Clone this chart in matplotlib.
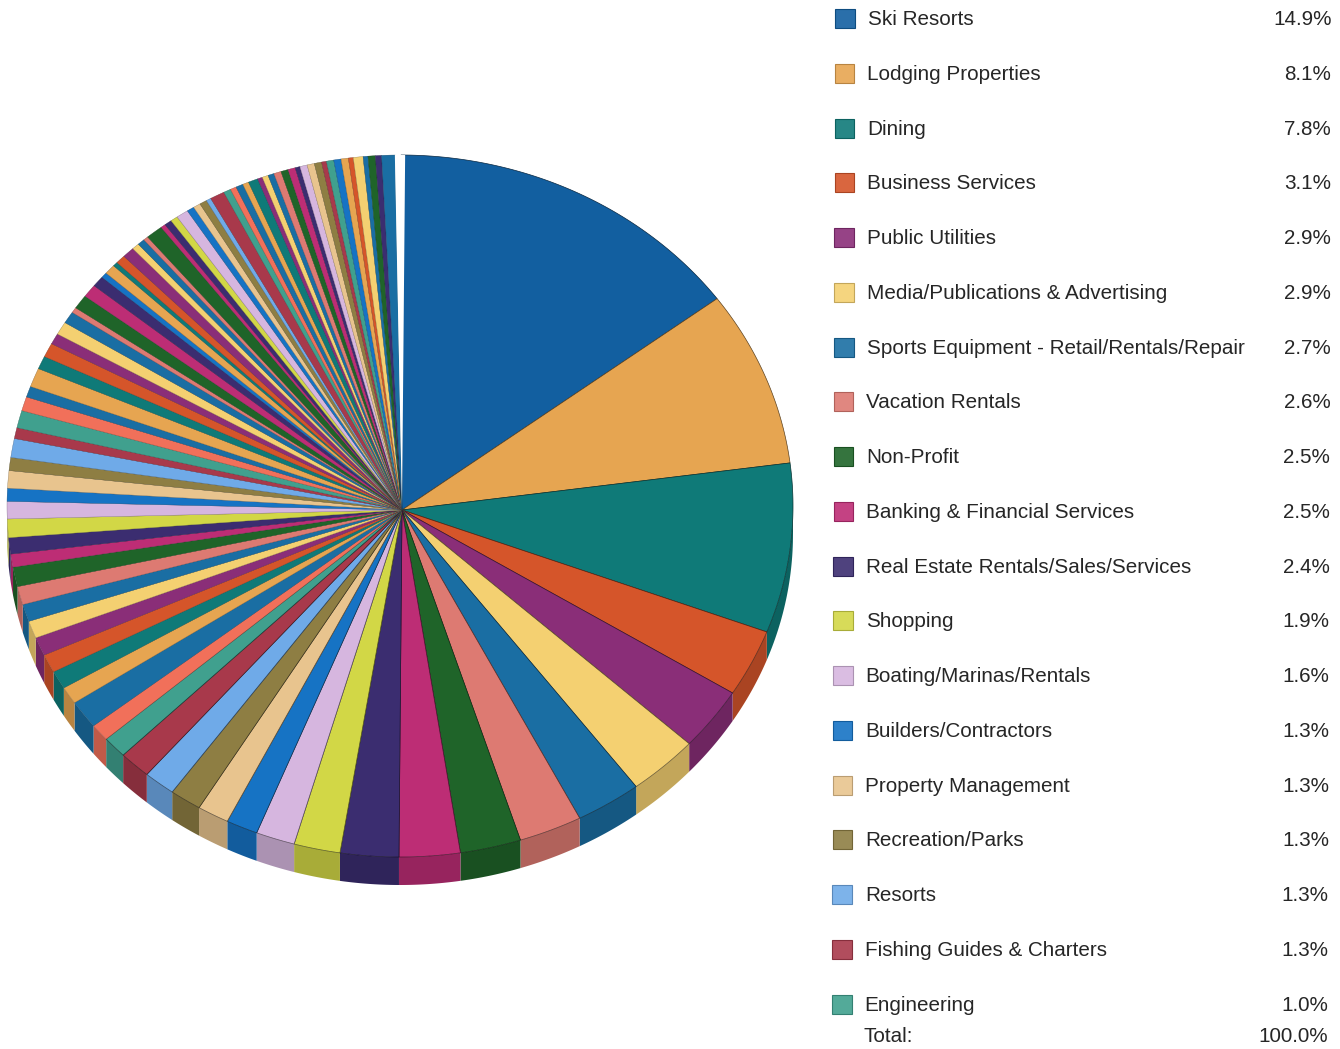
import numpy as np
import matplotlib
matplotlib.use("Agg")
import matplotlib.pyplot as plt
from matplotlib.colors import to_rgb
from matplotlib.patches import Polygon, Rectangle

plt.rcParams['font.family'] = ['Liberation Sans', 'DejaVu Sans']

# Named categories shown in the key
categories = ["Ski Resorts", "Lodging Properties", "Dining", "Business Services",
              "Public Utilities", "Media/Publications & Advertising",
              "Sports Equipment - Retail/Rentals/Repair", "Vacation Rentals",
              "Non-Profit", "Banking & Financial Services",
              "Real Estate Rentals/Sales/Services", "Shopping",
              "Boating/Marinas/Rentals", "Builders/Contractors",
              "Property Management", "Recreation/Parks", "Resorts",
              "Fishing Guides & Charters", "Engineering"]
shares = [14.9, 8.1, 7.8, 3.1, 2.9, 2.9, 2.7, 2.6, 2.5, 2.5, 2.4, 1.9, 1.6,
          1.3, 1.3, 1.3, 1.3, 1.3, 1.0]
share_labels = ["14.9%", "8.1%", "7.8%", "3.1%", "2.9%", "2.9%", "2.7%", "2.6%",
                "2.5%", "2.5%", "2.4%", "1.9%", "1.6%", "1.3%", "1.3%", "1.3%",
                "1.3%", "1.3%", "1.0%"]
total_label = "Total:"
total_value = "100.0%"

# Unlabelled smaller categories, clockwise after Engineering
minor_shares = [0.79, 1.3, 0.8, 0.84, 0.85, 0.85, 0.8, 0.8, 0.84, 0.9, 0.6, 0.75, 0.85,
                0.8, 0.6, 0.8, 0.6, 0.87, 0.5, 0.8, 0.65, 0.5, 0.87, 0.6, 0.65, 0.5,
                0.6, 0.55, 0.25, 0.65, 0.6, 0.5, 0.25, 0.45, 0.2, 0.4, 0.5, 0.3,
                0.3, 0.2, 0.7, 0.2, 0.3, 0.3, 0.5, 0.3, 0.3, 0.3, 0.2, 0.6, 0.3,
                0.25, 0.3, 0.25, 0.4, 0.2, 0.25, 0.25, 0.3, 0.3, 0.3, 0.2, 0.3,
                0.3, 0.3, 0.2, 0.3, 0.3, 0.3, 0.2, 0.4, 0.2, 0.3, 0.25, 0.55]

palette = {
    "ski": "#125fa0", "orange": "#e6a551", "teal": "#0f7a78", "red": "#d5552a",
    "purple": "#8a2e78", "yellow": "#f4d071", "blue": "#1a6ea3", "salmon": "#dd7a72",
    "green": "#1f6429", "pink": "#bd2d75", "navy": "#3b2d70", "lime": "#d2d746",
    "lilac": "#d6b6df", "azure": "#1673c4", "tan": "#e8c48e", "olive": "#8e7e43",
    "sky": "#6faae8", "crimson": "#a8394b", "sea": "#40a08e", "coral": "#f1705a",
}
major_colors = ["ski", "orange", "teal", "red", "purple", "yellow", "blue", "salmon",
                "green", "pink", "navy", "lime", "lilac", "azure", "tan", "olive",
                "sky", "crimson", "sea"]
minor_colors = ["coral", "blue", "orange", "teal", "red", "purple", "yellow", "blue",
                "salmon", "green", "pink", "navy", "lime", "lilac", "azure", "tan",
                "olive", "sky", "crimson", "sea", "coral", "blue", "orange", "teal",
                "red", "purple", "yellow", "blue", "salmon", "green", "pink", "navy",
                "azure", "orange", "teal", "red", "purple", "yellow", "blue", "salmon",
                "green", "pink", "navy", "lime", "lilac", "azure", "tan", "olive",
                "sky", "crimson", "sea", "coral", "blue", "orange", "teal", "purple",
                "yellow", "blue", "salmon", "green", "pink", "navy", "lilac", "tan",
                "olive", "crimson", "sea", "azure", "orange", "red", "yellow", "blue",
                "green", "navy", "blue"]

# Rim ellipse, and the hub, which sits a little off the ellipse centre in this view
CX, CY, RX, RY, DEPTH = 400.0, 506.0, 393.0, 351.0, 28.0
HUB = (402.0, 510.0)
START_DEG = 0.15
GAP_DEG = 0.75


def shade(name, factor):
    return tuple(c * factor for c in to_rgb(palette[name]))


def tint(name, amount):
    return tuple(c + (1 - c) * amount for c in to_rgb(palette[name]))


def rim(deg, drop=0.0):
    t = np.radians(deg)
    return CX + RX * np.sin(t), CY - RY * np.cos(t) + drop


fig = plt.figure(figsize=(13.40, 10.49), dpi=100)
ax = fig.add_axes([0, 0, 1, 1])
ax.set_xlim(0, 1340)
ax.set_ylim(1049, 0)
ax.axis("off")

all_shares = shares + minor_shares
all_colors = major_colors + minor_colors
ends = START_DEG + 3.6 * np.cumsum(all_shares)
starts = np.r_[START_DEG, ends[:-1]]

# Side wall of the disc: only the front half is visible
for a, b, name in zip(starts, ends, all_colors):
    lo, hi = max(a, 90.0), min(b, 270.0)
    if hi <= lo:
        continue
    arc = np.linspace(lo, hi, 30)
    top = np.column_stack(rim(arc))
    bottom = np.column_stack(rim(arc[::-1], DEPTH))
    ax.add_patch(Polygon(np.vstack([top, bottom]), closed=True,
                         facecolor=shade(name, 0.8), edgecolor="none", zorder=2))

# Top face: the large named slices carry a firmer outline than the thin stripes
for k, (a, b, name) in enumerate(zip(starts, ends, all_colors)):
    arc = np.linspace(a, b, max(4, int(b - a) * 3))
    pts = np.vstack([HUB, np.column_stack(rim(arc))])
    ax.add_patch(Polygon(pts, closed=True, facecolor=palette[name],
                         edgecolor=shade(name, 0.4 if k < len(shares) else 0.6),
                         linewidth=0.5 if k < len(shares) else 0.25, zorder=3))

# Narrow white notch where the circle closes at twelve o'clock
notch = np.linspace(-GAP_DEG, GAP_DEG, 4)
ax.add_patch(Polygon(np.vstack([HUB, np.column_stack(rim(notch))]), closed=True,
                     facecolor="white", edgecolor="none", zorder=4))

# Key: swatches drift slightly left down the page, as do the text columns
for i, (label, value, name) in enumerate(zip(categories, share_labels, major_colors)):
    y = 18.5 + i * 54.75
    drift = i * 0.165
    ax.add_patch(Rectangle((835 - drift, y - 9.5), 19.5, 19, facecolor=tint(name, 0.1),
                           edgecolor=shade(name, 0.8), linewidth=0.8, zorder=4))
    ax.text(867.5 - drift, y + 1.2, label, fontsize=14.85, color="#262626", va="center", ha="left")
    ax.text(1331.5 - drift, y + 1.2, value, fontsize=14.85, color="#262626", va="center", ha="right")

ax.text(864, 1036, total_label, fontsize=14.85, color="#262626", va="center", ha="left")
ax.text(1328, 1036, total_value, fontsize=14.85, color="#262626", va="center", ha="right")

fig.savefig("out.png", dpi=100, facecolor="white")
